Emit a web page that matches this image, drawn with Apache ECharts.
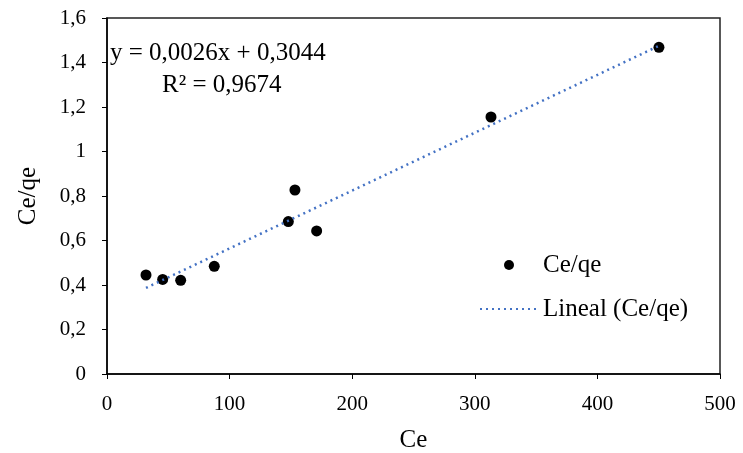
<!DOCTYPE html>
<html>
<head>
<meta charset="utf-8">
<script src="https://cdn.jsdelivr.net/npm/echarts@6/dist/echarts.min.js"></script>
<style>
  html, body { margin: 0; padding: 0; background: #fff; }
  #chart { width: 743px; height: 453px; }
</style>
</head>
<body>
<div id="chart"></div>
<script>
// datos
var ceValues = [31.8, 45.4, 60.1, 87.5, 147.9, 153.3, 171, 313.2, 450.2]
var ceQeValues = [0.445, 0.425, 0.421, 0.484, 0.685, 0.827, 0.643, 1.155, 1.468]
var trendSlope = 0.0026
var trendIntercept = 0.3044
var equationText = 'y = 0,0026x + 0,3044'
var r2Text = 'R² = 0,9674'

var font = 'Liberation Serif'

var points = ceValues.map(function (x, i) { return [x, ceQeValues[i]] })
var xMin = Math.min.apply(null, ceValues)
var xMax = Math.max.apply(null, ceValues)
var trend = [xMin, xMax].map(function (x) { return [x, trendSlope * x + trendIntercept] })

var chart = echarts.init(document.getElementById('chart'))
chart.setOption({
  animation: false,
  grid: {
    left: 107, right: 23, top: 18, bottom: 79,
    outerBoundsMode: 'none', containLabel: false,
    show: true, borderColor: '#222', borderWidth: 1.5
  },
  xAxis: {
    type: 'value', min: 0, max: 500, interval: 100,
    name: 'Ce', nameLocation: 'middle', nameGap: 54,
    nameTextStyle: { fontFamily: font, fontSize: 25, color: '#000' },
    axisLine: { lineStyle: { color: '#000', width: 1.5 } },
    axisTick: { inside: false, length: 5, lineStyle: { color: '#000' } },
    axisLabel: { fontFamily: font, fontSize: 21, color: '#000', margin: 20 },
    splitLine: { show: false }
  },
  yAxis: {
    type: 'value', min: 0, max: 1.6, interval: 0.2,
    name: 'Ce/qe', nameLocation: 'middle', nameGap: 66,
    nameTextStyle: { fontFamily: font, fontSize: 25, color: '#000' },
    axisLine: { show: true, lineStyle: { color: '#000', width: 1.5 } },
    axisTick: { show: true, inside: false, length: 5, lineStyle: { color: '#000' } },
    axisLabel: {
      fontFamily: font, fontSize: 21, color: '#000', margin: 21,
      formatter: function (v) { return String(+v.toFixed(2)).replace('.', ',') }
    },
    splitLine: { show: false }
  },
  legend: {
    orient: 'vertical', left: 474, top: 245,
    itemWidth: 58, itemHeight: 10, itemGap: 14,
    textStyle: { fontFamily: font, fontSize: 25, color: '#000', lineHeight: 30 },
    data: [
      { name: 'Ce/qe', itemStyle: { color: '#000', opacity: 1 } },
      { name: 'Lineal (Ce/qe)', itemStyle: { opacity: 0 } }
    ]
  },
  graphic: [
    { type: 'text', left: 110, top: 41, style: { text: equationText, font: '25px "' + font + '"', fill: '#000' } },
    { type: 'text', left: 162, top: 73, style: { text: r2Text, font: '25px "' + font + '"', fill: '#000' } }
  ],
  series: [
    {
      name: 'Lineal (Ce/qe)', type: 'line', data: trend,
      symbol: 'none', z: 3,
      lineStyle: { color: '#4472C4', width: 2.5, type: [2, 4] },
      itemStyle: { color: '#4472C4' }
    },
    {
      name: 'Ce/qe', type: 'scatter', data: points,
      symbol: 'circle', symbolSize: 11, z: 2,
      itemStyle: { color: '#000', opacity: 1 }
    }
  ]
})
</script>
</body>
</html>
